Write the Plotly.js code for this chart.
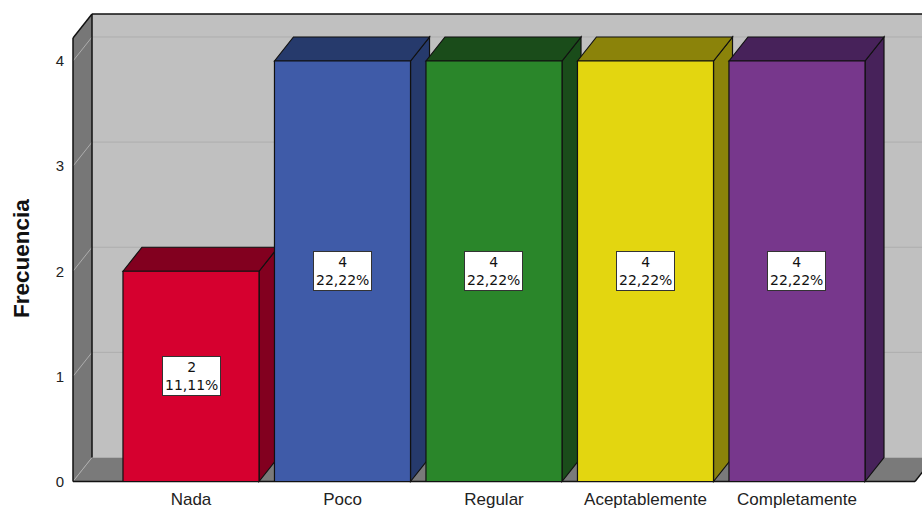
<!DOCTYPE html>
<html>
<head>
<meta charset="utf-8">
<script src="https://cdn.plot.ly/plotly-3.0.1.min.js"></script>
<style>
  html, body { margin: 0; padding: 0; background: #ffffff; }
  #chart { width: 922px; height: 508px; }
</style>
</head>
<body>
<div id="chart"></div>
<script>
// Frequency table
const categories = ['Nada', 'Poco', 'Regular', 'Aceptablemente', 'Completamente'];
const counts = [2, 4, 4, 4, 4];
const percents = [11.11, 22.22, 22.22, 22.22, 22.22];
const yTicks = [0, 1, 2, 3, 4];

// Face colours: front, and the darker shade used for top/side faces
const frontColors = ['#d6002f', '#3f5ba8', '#2a862a', '#e3d610', '#77378c'];
const shadeColors = ['#82001f', '#263a6c', '#1a4c1a', '#8b830a', '#47225a'];

// 3D box geometry (in axis units)
const BAR_W = 0.898;          // front face width
const DX = 0.1254;            // depth offset along x
const DY = 0.2283;            // depth offset along y
const XL = -0.7789;           // front-left edge of the floor / left wall
const XR = 4.779;             // front-right edge of the floor
const YT = 4.219;             // top of the left wall (front)
const EDGE = '#111111';
const GRID = '#adadad';

const xs = categories.map((_, i) => i);

function poly(pts) {
  return 'M ' + pts.map(p => p[0] + ',' + p[1]).join(' L ') + ' Z';
}
function seg(x0, y0, x1, y1, color, width) {
  return { type: 'line', xref: 'x', yref: 'y', layer: 'below',
           x0: x0, y0: y0, x1: x1, y1: y1,
           line: { color: color, width: width } };
}
function face(pts, fill, width) {
  return { type: 'path', xref: 'x', yref: 'y', layer: 'below',
           path: poly(pts), fillcolor: fill,
           line: { color: EDGE, width: width } };
}

const shapes = [];
// back wall, left wall, floor
shapes.push({ type: 'path', xref: 'x', yref: 'y', layer: 'below',
  path: poly([[XL + DX, DY], [XR + DX + 0.3, DY], [XR + DX + 0.3, YT + DY], [XL + DX, YT + DY]]),
  fillcolor: '#c0c0c0', line: { width: 0 } });
shapes.push({ type: 'path', xref: 'x', yref: 'y', layer: 'below',
  path: poly([[XL, 0], [XL + DX, DY], [XL + DX, YT + DY], [XL, YT]]),
  fillcolor: '#777777', line: { width: 0 } });
shapes.push({ type: 'path', xref: 'x', yref: 'y', layer: 'below',
  path: poly([[XL, 0], [XR, 0], [XR + DX, DY], [XL + DX, DY]]),
  fillcolor: '#7a7a7a', line: { width: 0 } });

// gridlines: slanted on the left wall, flat on the back wall
yTicks.forEach(v => {
  shapes.push(seg(XL, v, XL + DX, v + DY, GRID, 1));
  shapes.push(seg(XL + DX, v + DY, XR + DX + 0.3, v + DY, GRID, 1));
});

// frame edges
shapes.push(seg(XL, 0, XL, YT, EDGE, 1.5));
shapes.push(seg(XL, YT, XL + DX, YT + DY, EDGE, 1.5));
shapes.push(seg(XL + DX, YT + DY, XR + DX + 0.3, YT + DY, EDGE, 1.5));
shapes.push(seg(XL + DX, DY, XL + DX, YT + DY, EDGE, 1.5));
shapes.push(seg(XL, 0, XR, 0, EDGE, 1.5));
shapes.push(seg(XR, 0, XR + DX, DY, EDGE, 1.5));

// top and side faces of each bar
xs.forEach((x, i) => {
  const v = counts[i];
  const l = x - BAR_W / 2, r = x + BAR_W / 2;
  shapes.push(face([[r, 0], [r + DX, DY], [r + DX, v + DY], [r, v]], shadeColors[i], 1.2));
  shapes.push(face([[l, v], [l + DX, v + DY], [r + DX, v + DY], [r, v]], shadeColors[i], 1.2));
});

// value labels: count and percentage, centred on each bar
const annotations = xs.map((x, i) => ({
  x: x, y: counts[i] / 2, xref: 'x', yref: 'y',
  text: counts[i] + '<br>' + percents[i].toFixed(2).replace('.', ',') + '%',
  showarrow: false, xanchor: 'center', yanchor: 'middle',
  bgcolor: '#ffffff', bordercolor: '#333333', borderwidth: 1, borderpad: 2,
  font: { family: 'DejaVu Sans', size: 14, color: '#111111' }
}));
annotations.push({
  text: 'Frecuencia', textangle: -90, showarrow: false,
  xref: 'paper', yref: 'paper', x: -0.0563, y: 0.4736,
  xanchor: 'center', yanchor: 'middle',
  font: { family: 'Liberation Sans', size: 22.5, color: '#111111', weight: 'bold' }
});

const trace = {
  type: 'bar',
  x: xs,
  y: counts,
  width: BAR_W,
  marker: { color: frontColors, line: { color: EDGE, width: 1.2 } },
  hoverinfo: 'skip'
};

const layout = {
  width: 922, height: 508,
  margin: { l: 70, r: 0, t: 10, b: 25 },
  paper_bgcolor: '#ffffff',
  plot_bgcolor: 'rgba(0,0,0,0)',
  showlegend: false,
  xaxis: {
    range: [-0.7987, 4.8252], tickvals: xs, ticktext: categories,
    showgrid: false, zeroline: false, showline: false, ticks: '',
    ticklabelstandoff: 4,
    tickfont: { family: 'Liberation Sans', size: 17, color: '#222222' }
  },
  yaxis: {
    range: [-0.0143, 4.4851], tickvals: yTicks,
    showgrid: false, zeroline: false, showline: false, ticks: '',
    ticklabelstandoff: 5,
    tickfont: { family: 'Liberation Sans', size: 15, color: '#222222' }
  },
  shapes: shapes,
  annotations: annotations
};

Plotly.newPlot('chart', [trace], layout, { staticPlot: true, displayModeBar: false });
</script>
</body>
</html>
